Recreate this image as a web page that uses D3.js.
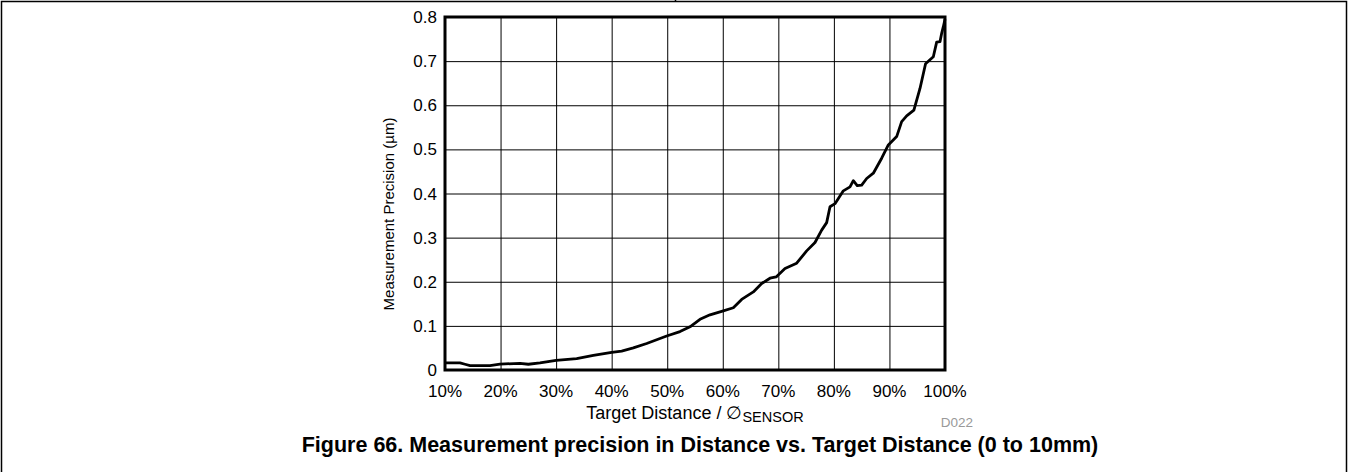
<!DOCTYPE html>
<html>
<head>
<meta charset="utf-8">
<script src="https://cdn.jsdelivr.net/npm/d3@7"></script>
<style>
	body { margin: 0; background: #fff; }
	svg { display: block; font-family: "Liberation Sans", Arial, sans-serif; }
</style>
</head>
<body>
<svg id="chart" width="1349" height="472"></svg>
<script>
// data
var distancePct = [10, 12.7, 13.6, 14.5, 18.1, 19.9, 23.5, 25, 27.1, 30, 33.7, 36.7, 40, 41.8, 43.9,
	46.3, 49.9, 52.3, 54.1, 55.9, 57.7, 60.1, 61.9, 63.4, 65.5, 67, 68.5, 69.6, 71.2, 73.3, 75.1,
	76.6, 77.8, 78.7, 79.3, 80.2, 81.7, 82.9, 83.5, 84.2, 85, 85.9, 87.1, 88.6, 89.8, 91.3, 92.2,
	93.1, 94.4, 95.5, 96.5, 97.9, 98.5, 99.1, 99.4, 99.7, 100];
var precision = [0.016, 0.016, 0.013, 0.010, 0.010, 0.0135, 0.015, 0.013, 0.016, 0.022, 0.026, 0.033, 0.040, 0.043, 0.050,
	0.060, 0.077, 0.087, 0.098, 0.115, 0.125, 0.134, 0.141, 0.160, 0.177, 0.196, 0.208, 0.211, 0.230, 0.242, 0.270,
	0.289, 0.317, 0.334, 0.370, 0.377, 0.406, 0.415, 0.429, 0.418, 0.419, 0.434, 0.446, 0.480, 0.510, 0.529, 0.563,
	0.576, 0.589, 0.638, 0.694, 0.710, 0.743, 0.744, 0.763, 0.778, 0.795];

var xTicks = [10, 20, 30, 40, 50, 60, 70, 80, 90, 100];
var yTicks = [0, 0.1, 0.2, 0.3, 0.4, 0.5, 0.6, 0.7, 0.8];

var svg = d3.select("#chart"),
	plotLeft = 445, plotRight = 945, plotTop = 17, plotBottom = 370;

var x = d3.scaleLinear().domain([10, 100]).range([plotLeft, plotRight]);
var y = d3.scaleLinear().domain([0, 0.8]).range([plotBottom, plotTop]);

// page frame
svg.append("path")
	.attr("d", "M1.5,472 L1.5,1.5 L1346.5,1.5 L1346.5,472 M675.5,0 L675.5,1.5")
	.attr("fill", "none")
	.attr("stroke", "#000")
	.attr("stroke-width", 1.5);

// grid
svg.append("g")
	.attr("transform", "translate(0," + plotBottom + ")")
	.call(d3.axisBottom(x).tickValues(xTicks).tickSize(-(plotBottom - plotTop)).tickFormat(""))
	.call(function (g) {
		g.select(".domain").remove();
		g.selectAll("line").attr("stroke", "#000").attr("stroke-width", 1);
	});

svg.append("g")
	.attr("transform", "translate(" + plotLeft + ",0)")
	.call(d3.axisLeft(y).tickValues(yTicks).tickSize(-(plotRight - plotLeft)).tickFormat(""))
	.call(function (g) {
		g.select(".domain").remove();
		g.selectAll("line").attr("stroke", "#000").attr("stroke-width", 1);
	});

// tick labels
svg.append("g").selectAll("text")
	.data(xTicks)
	.enter()
	.append("text")
	.attr("x", function (d) { return x(d); })
	.attr("y", 397)
	.attr("text-anchor", "middle")
	.style("font-size", "17px")
	.text(function (d) { return d + "%"; });

svg.append("g").selectAll("text")
	.data(yTicks)
	.enter()
	.append("text")
	.attr("x", 437)
	.attr("y", function (d) { return y(d) + 6; })
	.attr("text-anchor", "end")
	.style("font-size", "17px")
	.text(function (d) { return d === 0 ? "0" : d3.format(".1f")(d); });

// curve
var line = d3.line()
	.x(function (d, i) { return x(distancePct[i]); })
	.y(function (d) { return y(d); });

svg.append("path")
	.datum(precision)
	.attr("d", line)
	.attr("fill", "none")
	.attr("stroke", "#000")
	.attr("stroke-width", 2.8)
	.attr("stroke-linejoin", "round");

// plot frame
svg.append("rect")
	.attr("x", plotLeft)
	.attr("y", plotTop)
	.attr("width", plotRight - plotLeft)
	.attr("height", plotBottom - plotTop)
	.attr("fill", "none")
	.attr("stroke", "#000")
	.attr("stroke-width", 3);

// axis titles
var xt = svg.append("text")
	.attr("x", (plotLeft + plotRight) / 2)
	.attr("y", 419)
	.attr("text-anchor", "middle")
	.style("font-size", "18px");
xt.append("tspan").text("Target Distance / \u2205");
xt.append("tspan").attr("dy", 3).style("font-size", "14.5px").text("SENSOR");

svg.append("text")
	.attr("transform", "translate(394,214) rotate(-90)")
	.attr("text-anchor", "middle")
	.style("font-size", "15px")
	.text("Measurement Precision (\u00b5m)");

svg.append("text")
	.attr("x", 973)
	.attr("y", 427)
	.attr("text-anchor", "end")
	.attr("fill", "#999")
	.style("font-size", "13.5px")
	.text("D022");

// caption
svg.append("text")
	.attr("x", 700)
	.attr("y", 452)
	.attr("text-anchor", "middle")
	.style("font-size", "21.5px")
	.style("font-weight", "bold")
	.text("Figure 66. Measurement precision in Distance vs. Target Distance (0 to 10mm)");
</script>
</body>
</html>
